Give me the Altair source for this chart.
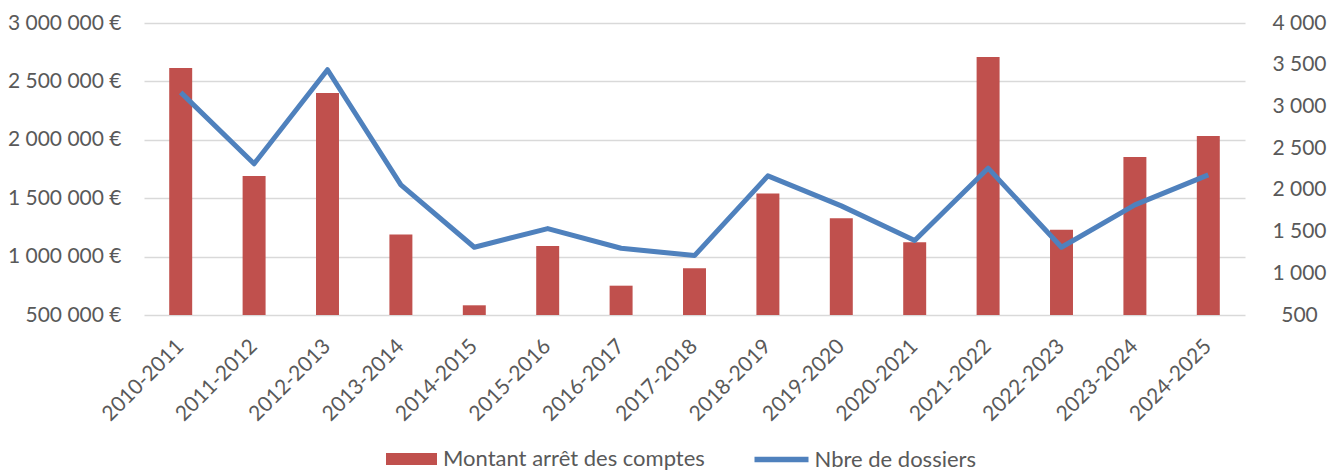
import altair as alt
import pandas as pd

seasons = ["2010-2011", "2011-2012", "2012-2013", "2013-2014", "2014-2015",
           "2015-2016", "2016-2017", "2017-2018", "2018-2019", "2019-2020",
           "2020-2021", "2021-2022", "2022-2023", "2023-2024", "2024-2025"]
montant = [2615000, 1690000, 2400000, 1190000, 583000,
           1091000, 751000, 900000, 1540000, 1329000,
           1123000, 2709000, 1229000, 1852000, 2032000]
dossiers = [3168, 2312, 3440, 2060, 1312,
            1536, 1300, 1212, 2168, 1808,
            1392, 2260, 1312, 1820, 2180]
left_ticks = [500000, 1000000, 1500000, 2000000, 2500000, 3000000]
right_ticks = [500, 1000, 1500, 2000, 2500, 3000, 3500, 4000]
bar_label = "Montant arrêt des comptes"
line_label = "Nbre de dossiers"

df = pd.DataFrame({"saison": seasons, "montant": montant, "dossiers": dossiers})
df["base"] = left_ticks[0]
df["s_bar"] = bar_label
df["s_line"] = line_label

FONT = "Lato"
TXT = "#595959"
FS = 21
LFS = 22

x_enc = alt.X(
    "saison:N", sort=seasons, title=None,
    scale=alt.Scale(paddingInner=0.687, paddingOuter=0.3435),
    axis=alt.Axis(labelAngle=-45, labelAlign="right", labelBaseline="middle",
                  labelPadding=28, ticks=False, tickSize=0, domain=False,
                  grid=False, labelOverlap=False, labelFont=FONT,
                  labelFontSize=FS, labelColor=TXT),
)

bars = alt.Chart(df).mark_bar(color="#C0504D").encode(
    x=x_enc,
    y=alt.Y("montant:Q",
            scale=alt.Scale(domain=[500000, 3000000], zero=False, nice=False),
            axis=alt.Axis(values=left_ticks,
                          labelExpr="replace(format(datum.value, ','), regexp(',', 'g'), ' ') + ' €'",
                          grid=True, gridColor="#D9D9D9", gridWidth=1.3,
                          domain=False, ticks=False, tickSize=0, labelPadding=23,
                          labelFont=FONT, labelFontSize=FS, labelColor=TXT,
                          title=None)),
    y2="base:Q",
    color=alt.Color("s_bar:N",
                    scale=alt.Scale(domain=[bar_label], range=["#C0504D"]),
                    legend=alt.Legend(orient="none", legendX=242, legendY=410.5,
                                      title=None,
                                      symbolType="M-1,-0.235H1V0.235H-1Z",
                                      symbolSize=2601, symbolStrokeWidth=0,
                                      labelOffset=6, padding=0, labelLimit=500,
                                      labelFont=FONT, labelFontSize=LFS,
                                      labelColor=TXT)),
)

line = alt.Chart(df).mark_line(strokeWidth=5, strokeJoin="round").encode(
    x=x_enc,
    y=alt.Y("dossiers:Q",
            scale=alt.Scale(domain=[500, 4000], zero=False, nice=False),
            axis=alt.Axis(orient="right", values=right_ticks,
                          labelExpr="replace(format(datum.value, ','), regexp(',', 'g'), ' ')",
                          grid=False, domain=False, ticks=False, tickSize=0,
                          labelAlign="center", labelPadding=54,
                          labelFont=FONT, labelFontSize=FS, labelColor=TXT,
                          title=None)),
    color=alt.Color("s_line:N",
                    scale=alt.Scale(domain=[line_label], range=["#4F81BD"]),
                    legend=alt.Legend(orient="none", legendX=607.5, legendY=406.5,
                                      title=None, symbolType="stroke",
                                      symbolSize=2916, symbolStrokeWidth=5.5,
                                      labelOffset=3, padding=0, labelLimit=500,
                                      labelFont=FONT, labelFontSize=LFS,
                                      labelColor=TXT)),
)

chart = alt.layer(bars, line).resolve_scale(
    y="independent", color="independent"
).properties(
    width=1101, height=292,
    autosize=alt.AutoSizeParams(type="none"),
    padding={"left": 136, "top": 15, "right": 87, "bottom": 157},
).configure_view(stroke="transparent")

chart.save("out.html", embed_options={"renderer": "svg", "actions": False})
